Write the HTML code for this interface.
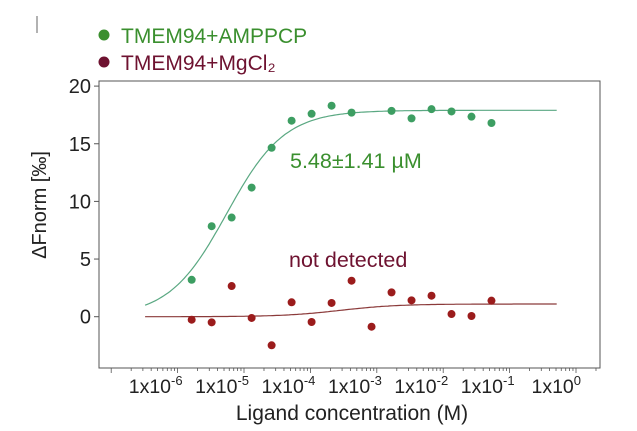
<!DOCTYPE html>
<html><head><meta charset="utf-8"><style>
html,body{margin:0;padding:0;background:#fff}
svg{display:block;font-family:"Liberation Sans",sans-serif}
</style></head><body>
<svg id="chart" width="637" height="431" viewBox="0 0 637 431">
<line x1="37" y1="16" x2="37" y2="33" stroke="#666" stroke-width="1"/>
<g>
<g>
<circle cx="104" cy="35" r="5.5" fill="#3a8f2e"/>
<text x="121" y="43" font-size="21" fill="#3a8f2e">TMEM94+AMPPCP</text></g>
<g>
<circle cx="104" cy="62" r="5.5" fill="#6e1230"/>
<text x="121" y="70" font-size="21" fill="#6e1230">TMEM94+MgCl₂</text></g>
</g>
<rect x="99" y="81" width="501" height="287" fill="none" stroke="#555" stroke-width="1"/>
<g id="yaxis"></g>
<g id="xaxis"></g>
<g id="series"></g>
<text x="290" y="168" font-size="21.5" fill="#3a8f2e">5.48±1.41 µM</text>
<text x="289" y="267" font-size="21.5" fill="#6e1230">not detected</text>
<text transform="translate(46,205) rotate(-90)" text-anchor="middle" font-size="20" fill="#222">ΔFnorm [‰]</text>
<text x="352" y="420" text-anchor="middle" font-size="21" fill="#222">Ligand concentration (M)</text>
</svg>
<script>
const logConc = [-5.788,-5.487,-5.186,-4.885,-4.584,-4.283,-3.982,-3.681,-3.380,-3.079,-2.778,-2.477,-2.176,-1.875,-1.574,-1.273];
const greenVals = [3.2,7.85,8.6,11.2,14.65,17.0,17.6,18.3,17.7,null,17.85,17.2,18.0,17.8,17.35,16.8];
const redVals = [-0.26,-0.49,2.66,-0.11,-2.48,1.25,-0.46,1.19,3.12,-0.87,2.11,1.42,1.82,0.23,0.06,1.39];
const greenFit = {logKd:-5.26, bottom:0, top:17.9};
const redFit = {logKd:-3.55, bottom:0, top:1.1};
const yTicks = [0,5,10,15,20];
const xDecades = [-6,-5,-4,-3,-2,-1,0];
const fitRange = [-6.49, -0.29];

const NS="http://www.w3.org/2000/svg";
function xs(l){return 244+(l+5)*66.4;}
function ys(v){return 316.7-v*11.53;}
function mk(tag,attrs,parent){const e=document.createElementNS(NS,tag);for(const k in attrs)e.setAttribute(k,attrs[k]);parent.appendChild(e);return e;}
const yg=document.getElementById('yaxis'),xg=document.getElementById('xaxis'),sg=document.getElementById('series');
yTicks.forEach(v=>{
  const t=mk('line',{x1:94,x2:99,y1:ys(v),y2:ys(v),stroke:'#555'},yg);
  
  
  const l=mk('text',{x:91,y:ys(v)+7,'text-anchor':'end','font-size':20,fill:'#222'},yg);
  l.textContent=v;
  
  
});
for(let d=-7;d<=0;d++){
  for(let m=1;m<10;m++){
    const l=d+Math.log10(m);const x=xs(l);
    if(x<100||x>599)continue;
    const t=mk('line',{x1:x,x2:x,y1:368,y2:m===1?373:371,stroke:'#555','stroke-width':0.8},xg);
    
    
  }
}
xDecades.forEach(d=>{
  const t=mk('text',{x:xs(d)+5,y:393,'text-anchor':'end','font-size':19.5,fill:'#222'},xg);
  t.textContent='1x10';
  const s=mk('tspan',{dy:-8,'font-size':13},t);s.textContent=String(d);
  
  
});
function fitPath(f,color,name){
  let d='';
  for(let i=0;i<=200;i++){
    const l=fitRange[0]+(fitRange[1]-fitRange[0])*i/200;
    const frac=1/(1+Math.pow(10,f.logKd-l));
    const v=f.bottom+(f.top-f.bottom)*frac;
    d+=(i?'L':'M')+xs(l).toFixed(1)+','+ys(v).toFixed(1);
  }
  const p=mk('path',{d:d,fill:'none',stroke:color,'stroke-width':1.2},sg);
  
  
}
fitPath(greenFit,'#5aa882','fit-curve-amppcp');
fitPath(redFit,'#8b3a3a','fit-curve-mgcl2');
function pts(vals,color,name){
  vals.forEach((v,i)=>{
    if(v===null)return;
    const c=mk('circle',{cx:xs(logConc[i]),cy:ys(v),r:4,fill:color},sg);
    
    
  });
}
pts(greenVals,'#3d9e62','point-amppcp');
pts(redVals,'#9b1c1c','point-mgcl2');
</script>
</body></html>
